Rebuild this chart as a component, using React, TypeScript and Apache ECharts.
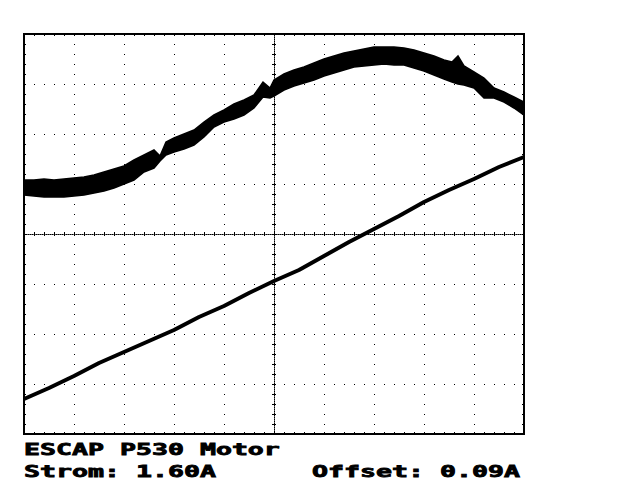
import React, { useEffect, useRef } from "react";
import * as echarts from "echarts";

// Screen coordinates: sample 0..500 (horizontal), level 0..400 (vertical), 50 per division
const lowerSample = [0, 25, 50, 75, 100, 125, 150, 175, 200, 225, 250, 275, 300, 325, 350, 375, 400, 425, 450, 475, 500];
const lowerLevel = [35, 46, 58, 71, 82, 93, 104, 117, 128, 141, 153, 164, 178, 192, 205, 218, 232, 244, 255, 267, 277];

const upperSample = [0, 10, 20, 30, 40, 50, 60, 70, 80, 90, 100, 110, 120, 130, 136, 142, 150, 160, 170, 180, 190, 200, 210, 220, 230, 239, 246, 250, 260, 270, 280, 290, 300, 310, 320, 330, 340, 350, 360, 370, 380, 390, 400, 410, 420, 428, 434, 440, 450, 460, 470, 480, 490, 500];
const upperTop = [254, 254, 255, 254, 255, 256, 257, 259, 262, 265, 268, 274, 279, 284, 278, 292, 296, 300, 304, 312, 319, 324, 330, 334, 339, 352, 346, 354, 360, 364, 367, 371, 375, 378, 381, 383, 385, 387, 387, 387, 386, 384, 381, 378, 374, 372, 378, 368, 362, 356, 346, 342, 337, 332];
const upperBottom = [239, 238, 237, 237, 237, 238, 239, 241, 243, 246, 250, 254, 262, 266, 273, 279, 282, 285, 289, 297, 307, 312, 315, 319, 326, 337, 336, 338, 344, 348, 351, 354, 358, 361, 364, 367, 368, 369, 370, 369, 369, 366, 363, 359, 355, 352, 350, 349, 346, 336, 336, 332, 326, 319];

const titleText = "ESCAP P530 Motor";
const currentText = "Strom: 1.60A";
const offsetText = "Offset: 0.09A";

const BLACK = "#000";
const FONT = 'bold 16px "DejaVu Sans Mono"';
const SX = 1.661;

function edgeAxis(extra: any) {
  return {
    type: "value",
    axisLine: { show: false, onZero: false },
    axisTick: { show: true, inside: true, length: 2, lineStyle: { color: BLACK, width: 1 } },
    minorTick: { show: true, splitNumber: 5, length: 2, lineStyle: { color: BLACK, width: 1 } },
    axisLabel: { show: false },
    splitLine: { show: false },
    ...extra,
  };
}

function centerAxis(extra: any, showLine: boolean, inside: boolean) {
  return {
    type: "value",
    interval: 10,
    axisLine: { show: showLine, onZero: false, lineStyle: { color: BLACK, width: 1, type: [1, 1] } },
    axisTick: { show: true, inside, length: 2, lineStyle: { color: BLACK, width: 1 } },
    axisLabel: { show: false },
    splitLine: { show: false },
    ...extra,
  };
}

function textEl(text: string, x: number, y: number) {
  return {
    type: "text",
    x,
    y,
    scaleX: SX,
    style: {
      text,
      font: FONT,
      fill: BLACK,
      stroke: BLACK,
      lineWidth: 0.8,
      align: "left",
      verticalAlign: "middle",
    },
  };
}

export default function App() {
  const ref = useRef<HTMLDivElement>(null);
  useEffect(() => {
    const chart = echarts.init(ref.current!, null, { renderer: "svg" });
    const lowerData = lowerSample.map((s, i) => [s, lowerLevel[i]]);
    const bandData = upperSample.map((s, i) => [s, upperBottom[i], upperTop[i]]);
    chart.setOption({
      animation: false,
      backgroundColor: "#fff",
      grid: {
        left: 24,
        top: 34,
        width: 500,
        height: 400,
        show: true,
        borderColor: BLACK,
        borderWidth: 2,
        backgroundColor: "transparent",
      },
      xAxis: [
        edgeAxis({
          position: "bottom",
          min: 0,
          max: 500,
          interval: 50,
          splitLine: { show: true, lineStyle: { color: BLACK, width: 1, type: [1, 9] } },
        }),
        edgeAxis({ position: "top", min: 0, max: 500, interval: 50 }),
        centerAxis({ position: "bottom", offset: -200, min: 0, max: 500 }, true, true),
        centerAxis({ position: "bottom", offset: -200, min: 0, max: 500 }, false, false),
      ],
      yAxis: [
        edgeAxis({
          position: "left",
          min: 0,
          max: 400,
          interval: 50,
          splitLine: { show: true, lineStyle: { color: BLACK, width: 1, type: [1, 9] } },
        }),
        edgeAxis({ position: "right", min: 0, max: 400, interval: 50 }),
        centerAxis({ position: "left", offset: -250, min: 0, max: 400 }, true, true),
        centerAxis({ position: "left", offset: -250, min: 0, max: 400 }, false, false),
      ],
      series: [
        {
          type: "line",
          data: lowerData,
          showSymbol: false,
          lineStyle: { color: BLACK, width: 4 },
          z: 5,
        },
        {
          type: "custom",
          coordinateSystem: "cartesian2d",
          data: bandData,
          encode: { x: 0, y: [1, 2] },
          clip: true,
          z: 5,
          renderItem: (params: any, api: any) => {
            if (params.dataIndex !== 0) return null;
            const pts: number[][] = [];
            for (let i = 0; i < bandData.length; i++) {
              pts.push(api.coord([bandData[i][0], bandData[i][2]]));
            }
            for (let i = bandData.length - 1; i >= 0; i--) {
              pts.push(api.coord([bandData[i][0], bandData[i][1]]));
            }
            return {
              type: "polygon",
              shape: { points: pts },
              style: { fill: BLACK, stroke: BLACK, lineWidth: 1.5 },
            };
          },
        },
      ],
      graphic: [
        textEl(titleText, 24, 450),
        textEl(currentText, 24, 471.5),
        textEl(offsetText, 312, 471.5),
      ],
    });
    return () => chart.dispose();
  }, []);
  return (
    <div
      ref={ref}
      style={{ position: "fixed", left: 0, top: 0, width: 640, height: 480, background: "#fff" }}
    />
  );
}
